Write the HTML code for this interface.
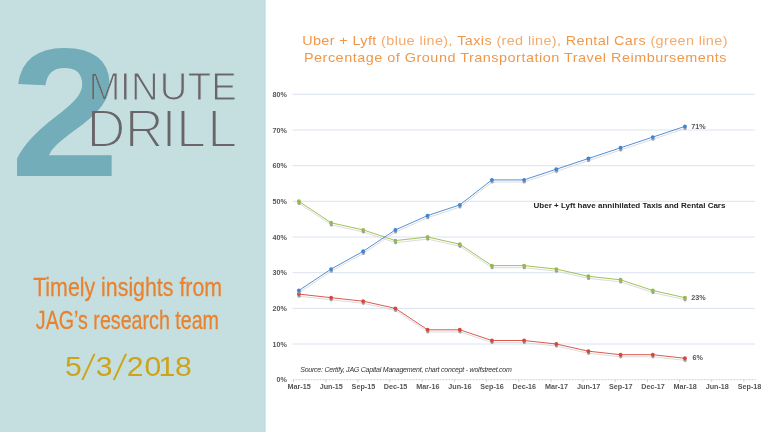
<!DOCTYPE html>
<html lang="en"><head><meta charset="utf-8"><title>2 Minute Drill</title>
<style>
html,body{margin:0;padding:0;background:#fff;}
body{width:768px;height:432px;overflow:hidden;position:relative;font-family:"Liberation Sans",sans-serif;}
svg{position:absolute;left:0;top:0;display:block;}
.thin{font-family:"Liberation Sans",sans-serif;fill:#6a6568;mix-blend-mode:darken;}
.two{font-family:"Liberation Sans",sans-serif;font-weight:700;fill:#72adb9;}
.tag{font-family:"Liberation Sans",sans-serif;fill:#e8822e;}
.date{font-family:"Liberation Sans",sans-serif;fill:#cda31a;}
.ttl{font-family:"Liberation Sans",sans-serif;fill:#f3ab6e;}
.ttl .m{fill:#f0984a;}
.ax text{font-family:"Liberation Sans",sans-serif;font-weight:700;font-size:7.2px;fill:#555;}
</style></head><body>
<svg width="768" height="432" viewBox="0 0 768 432">
<defs><linearGradient id="edge" x1="0" x2="1" y1="0" y2="0"><stop offset="0" stop-color="#c5dfe0"/><stop offset="0.45" stop-color="#bcdbdc"/><stop offset="1" stop-color="#ffffff"/></linearGradient></defs>
<rect x="0" y="0" width="768" height="432" fill="#ffffff"/>
<rect x="0" y="0" width="264.5" height="432" fill="#c5dfe0"/>
<rect x="263.5" y="0" width="3" height="432" fill="url(#edge)"/>
<text class="two" x="0" y="0" font-size="184.3" transform="translate(10.3,176) scale(1.066,1)">2</text>
<g class="thin" stroke="#c5dfe0" stroke-linejoin="round">
<text font-size="38.2" stroke-width="1.1" y="99.8" x="88.4 120.1 131.0 159.8 187.8 211.2">MINUTE</text>
<text font-size="54.1" stroke-width="2.1" y="147.05" x="86.6 124.7 161.6 176.1 207.2">DRILL</text>
</g>
<g class="tag" font-size="26.5" text-anchor="middle" stroke="#e8822e" stroke-width="0.25"><text transform="translate(127.6,295.6) scale(0.806,1)">Timely insights from</text><text transform="translate(127.4,328.6) scale(0.742,1)">JAG’s research team</text></g>
<text class="date" font-size="27.4" transform="scale(1.1,1)" x="59.0 73.2 87.0 101.8 115.3 131.3 144.1 159.1" y="375.7 380.1 375.7 380.1 375.7 375.7 375.7 375.7" rotate="0 7.6 0 7.6 0 0 0 0">5<tspan font-size="39" stroke="#c5dfe0" stroke-width="1.1">/</tspan>3<tspan font-size="39" stroke="#c5dfe0" stroke-width="1.1">/</tspan>2018</text>
<g class="ttl" text-anchor="middle" font-size="13.1"><text transform="translate(515,44.6) scale(1.1,1)" letter-spacing="0.345"><tspan class="m">Uber + Lyft</tspan> (blue line), <tspan class="m">Taxis</tspan> (red line), <tspan class="m">Rental Cars</tspan> (green line)</text>
<text class="m" transform="translate(515.5,61.8) scale(1.1,1)" letter-spacing="0.465">Percentage of Ground Transportation Travel Reimbursements</text></g>
<g stroke="#dae2f0" stroke-width="1"><line x1="292.5" x2="755" y1="344.0" y2="344.0"/><line x1="292.5" x2="755" y1="308.4" y2="308.4"/><line x1="292.5" x2="755" y1="272.7" y2="272.7"/><line x1="292.5" x2="755" y1="237.0" y2="237.0"/><line x1="292.5" x2="755" y1="201.3" y2="201.3"/><line x1="292.5" x2="755" y1="165.7" y2="165.7"/><line x1="292.5" x2="755" y1="130.0" y2="130.0"/><line x1="292.5" x2="755" y1="94.3" y2="94.3"/></g>
<line x1="292.5" x2="756" y1="379.7" y2="379.7" stroke="#cfcfcf" stroke-width="1" stroke-dasharray="2 1"/>
<g stroke="#cfcfcf" stroke-width="1"><line x1="293.5" x2="293.5" y1="379.7" y2="382"/><line x1="325.7" x2="325.7" y1="379.7" y2="382"/><line x1="357.8" x2="357.8" y1="379.7" y2="382"/><line x1="390.0" x2="390.0" y1="379.7" y2="382"/><line x1="422.2" x2="422.2" y1="379.7" y2="382"/><line x1="454.4" x2="454.4" y1="379.7" y2="382"/><line x1="486.5" x2="486.5" y1="379.7" y2="382"/><line x1="518.7" x2="518.7" y1="379.7" y2="382"/><line x1="550.9" x2="550.9" y1="379.7" y2="382"/><line x1="583.0" x2="583.0" y1="379.7" y2="382"/><line x1="615.2" x2="615.2" y1="379.7" y2="382"/><line x1="647.4" x2="647.4" y1="379.7" y2="382"/><line x1="679.5" x2="679.5" y1="379.7" y2="382"/><line x1="711.7" x2="711.7" y1="379.7" y2="382"/><line x1="743.9" x2="743.9" y1="379.7" y2="382"/></g>
<g class="ax" text-anchor="end"><text x="287" y="382.3">0%</text><text x="287" y="346.6">10%</text><text x="287" y="311.0">20%</text><text x="287" y="275.3">30%</text><text x="287" y="239.6">40%</text><text x="287" y="203.9">50%</text><text x="287" y="168.3">60%</text><text x="287" y="132.6">70%</text><text x="287" y="96.9">80%</text></g>
<g class="ax" text-anchor="middle"><text x="299.1" y="389.4">Mar-15</text><text x="331.3" y="389.4">Jun-15</text><text x="363.4" y="389.4">Sep-15</text><text x="395.6" y="389.4">Dec-15</text><text x="427.8" y="389.4">Mar-16</text><text x="459.9" y="389.4">Jun-16</text><text x="492.1" y="389.4">Sep-16</text><text x="524.3" y="389.4">Dec-16</text><text x="556.5" y="389.4">Mar-17</text><text x="588.6" y="389.4">Jun-17</text><text x="620.8" y="389.4">Sep-17</text><text x="653.0" y="389.4">Dec-17</text><text x="685.1" y="389.4">Mar-18</text><text x="717.3" y="389.4">Jun-18</text><text x="749.5" y="389.4">Sep-18</text></g>
<g transform="translate(0.2,2.1)"><polyline points="298.9,201.3 331.1,222.8 363.2,229.9 395.4,240.6 427.6,237.0 459.8,244.2 491.9,265.6 524.1,265.6 556.3,269.1 588.4,276.3 620.6,279.8 652.8,290.5 684.9,297.7" fill="none" stroke="#d9d6d6" stroke-width="0.9"/><g fill="#8e8e94" opacity="0.8"><circle cx="298.9" cy="201.3" r="1.6"/><circle cx="331.1" cy="222.8" r="1.6"/><circle cx="363.2" cy="229.9" r="1.6"/><circle cx="395.4" cy="240.6" r="1.6"/><circle cx="427.6" cy="237.0" r="1.6"/><circle cx="459.8" cy="244.2" r="1.6"/><circle cx="491.9" cy="265.6" r="1.6"/><circle cx="524.1" cy="265.6" r="1.6"/><circle cx="556.3" cy="269.1" r="1.6"/><circle cx="588.4" cy="276.3" r="1.6"/><circle cx="620.6" cy="279.8" r="1.6"/><circle cx="652.8" cy="290.5" r="1.6"/><circle cx="684.9" cy="297.7" r="1.6"/></g></g><polyline points="298.9,201.3 331.1,222.8 363.2,229.9 395.4,240.6 427.6,237.0 459.8,244.2 491.9,265.6 524.1,265.6 556.3,269.1 588.4,276.3 620.6,279.8 652.8,290.5 684.9,297.7" fill="none" stroke="#93bb45" stroke-width="0.9" stroke-linejoin="round"/><g fill="#93bb45"><circle cx="298.9" cy="201.3" r="1.95"/><circle cx="331.1" cy="222.8" r="1.95"/><circle cx="363.2" cy="229.9" r="1.95"/><circle cx="395.4" cy="240.6" r="1.95"/><circle cx="427.6" cy="237.0" r="1.95"/><circle cx="459.8" cy="244.2" r="1.95"/><circle cx="491.9" cy="265.6" r="1.95"/><circle cx="524.1" cy="265.6" r="1.95"/><circle cx="556.3" cy="269.1" r="1.95"/><circle cx="588.4" cy="276.3" r="1.95"/><circle cx="620.6" cy="279.8" r="1.95"/><circle cx="652.8" cy="290.5" r="1.95"/><circle cx="684.9" cy="297.7" r="1.95"/></g><g transform="translate(0.2,2.1)"><polyline points="298.9,294.1 331.1,297.7 363.2,301.2 395.4,308.4 427.6,329.8 459.8,329.8 491.9,340.5 524.1,340.5 556.3,344.0 588.4,351.2 620.6,354.7 652.8,354.7 684.9,358.3" fill="none" stroke="#d9d6d6" stroke-width="0.9"/><g fill="#8e8e94" opacity="0.8"><circle cx="298.9" cy="294.1" r="1.6"/><circle cx="331.1" cy="297.7" r="1.6"/><circle cx="363.2" cy="301.2" r="1.6"/><circle cx="395.4" cy="308.4" r="1.6"/><circle cx="427.6" cy="329.8" r="1.6"/><circle cx="459.8" cy="329.8" r="1.6"/><circle cx="491.9" cy="340.5" r="1.6"/><circle cx="524.1" cy="340.5" r="1.6"/><circle cx="556.3" cy="344.0" r="1.6"/><circle cx="588.4" cy="351.2" r="1.6"/><circle cx="620.6" cy="354.7" r="1.6"/><circle cx="652.8" cy="354.7" r="1.6"/><circle cx="684.9" cy="358.3" r="1.6"/></g></g><polyline points="298.9,294.1 331.1,297.7 363.2,301.2 395.4,308.4 427.6,329.8 459.8,329.8 491.9,340.5 524.1,340.5 556.3,344.0 588.4,351.2 620.6,354.7 652.8,354.7 684.9,358.3" fill="none" stroke="#d4483c" stroke-width="0.9" stroke-linejoin="round"/><g fill="#d4483c"><circle cx="298.9" cy="294.1" r="1.95"/><circle cx="331.1" cy="297.7" r="1.95"/><circle cx="363.2" cy="301.2" r="1.95"/><circle cx="395.4" cy="308.4" r="1.95"/><circle cx="427.6" cy="329.8" r="1.95"/><circle cx="459.8" cy="329.8" r="1.95"/><circle cx="491.9" cy="340.5" r="1.95"/><circle cx="524.1" cy="340.5" r="1.95"/><circle cx="556.3" cy="344.0" r="1.95"/><circle cx="588.4" cy="351.2" r="1.95"/><circle cx="620.6" cy="354.7" r="1.95"/><circle cx="652.8" cy="354.7" r="1.95"/><circle cx="684.9" cy="358.3" r="1.95"/></g><g transform="translate(0.2,2.1)"><polyline points="298.9,290.5 331.1,269.1 363.2,251.3 395.4,229.9 427.6,215.6 459.8,204.9 491.9,179.9 524.1,179.9 556.3,169.2 588.4,158.5 620.6,147.8 652.8,137.1 684.9,126.4" fill="none" stroke="#d9d6d6" stroke-width="0.9"/><g fill="#8e8e94" opacity="0.8"><circle cx="298.9" cy="290.5" r="1.6"/><circle cx="331.1" cy="269.1" r="1.6"/><circle cx="363.2" cy="251.3" r="1.6"/><circle cx="395.4" cy="229.9" r="1.6"/><circle cx="427.6" cy="215.6" r="1.6"/><circle cx="459.8" cy="204.9" r="1.6"/><circle cx="491.9" cy="179.9" r="1.6"/><circle cx="524.1" cy="179.9" r="1.6"/><circle cx="556.3" cy="169.2" r="1.6"/><circle cx="588.4" cy="158.5" r="1.6"/><circle cx="620.6" cy="147.8" r="1.6"/><circle cx="652.8" cy="137.1" r="1.6"/><circle cx="684.9" cy="126.4" r="1.6"/></g></g><polyline points="298.9,290.5 331.1,269.1 363.2,251.3 395.4,229.9 427.6,215.6 459.8,204.9 491.9,179.9 524.1,179.9 556.3,169.2 588.4,158.5 620.6,147.8 652.8,137.1 684.9,126.4" fill="none" stroke="#4383d0" stroke-width="0.9" stroke-linejoin="round"/><g fill="#4383d0"><circle cx="298.9" cy="290.5" r="1.95"/><circle cx="331.1" cy="269.1" r="1.95"/><circle cx="363.2" cy="251.3" r="1.95"/><circle cx="395.4" cy="229.9" r="1.95"/><circle cx="427.6" cy="215.6" r="1.95"/><circle cx="459.8" cy="204.9" r="1.95"/><circle cx="491.9" cy="179.9" r="1.95"/><circle cx="524.1" cy="179.9" r="1.95"/><circle cx="556.3" cy="169.2" r="1.95"/><circle cx="588.4" cy="158.5" r="1.95"/><circle cx="620.6" cy="147.8" r="1.95"/><circle cx="652.8" cy="137.1" r="1.95"/><circle cx="684.9" cy="126.4" r="1.95"/></g>
<g class="ax"><text x="691.3" y="129.4">71%</text><text x="691.3" y="300">23%</text><text x="692.5" y="360.4">6%</text></g>
<text x="533.6" y="207.6" font-family="'Liberation Sans',sans-serif" font-weight="700" font-size="8" fill="#222">Uber + Lyft have annihilated Taxis and Rental Cars</text>
<text x="300.2" y="371.8" font-family="'Liberation Sans',sans-serif" font-style="italic" font-size="7" fill="#333" letter-spacing="-0.22">Source: Certify, JAG Capital Management, chart concept - wolfstreet.com</text>
</svg>
</body></html>
